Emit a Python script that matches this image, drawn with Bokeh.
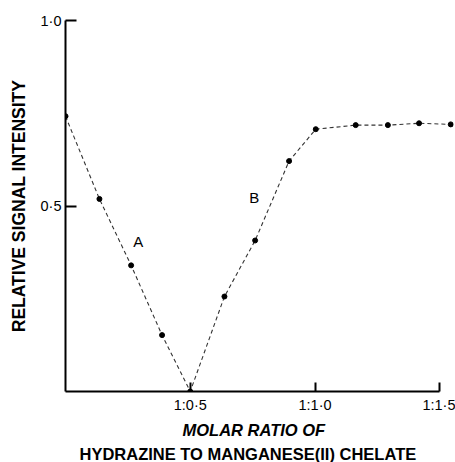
from bokeh.plotting import figure
from bokeh.models import Range1d, FixedTicker, Label, ColumnDataSource, Title
from bokeh.embed import file_html
from bokeh.resources import INLINE

# data
ratio = [0.0, 0.136, 0.263, 0.387, 0.5, 0.637, 0.76, 0.896, 1.003, 1.163, 1.292, 1.417, 1.544]
signal = [0.742, 0.519, 0.340, 0.152, 0.0, 0.256, 0.407, 0.621, 0.707, 0.718, 0.718, 0.723, 0.720]

x_ticks = [0.5, 1.0, 1.5]
x_tick_labels = ["1:0·5", "1:1·0", "1:1·5"]
y_ticks = [0.5, 1.0]
y_tick_labels = ["0·5", "1·0"]

curve_labels = ["A", "B"]
curve_label_x = [0.292, 0.756]
curve_label_y = [0.403, 0.522]

FONT = "Liberation Sans"

p = figure(width=455, height=462, x_range=Range1d(0, 1.555), y_range=Range1d(0, 1.0),
           output_backend="svg", toolbar_location=None,
           min_border_left=65, min_border_right=2, min_border_top=20, min_border_bottom=70)
p.outline_line_color = None
p.xgrid.visible = False
p.ygrid.visible = False
p.background_fill_color = "white"
p.border_fill_color = "white"

src = ColumnDataSource(dict(x=ratio, y=signal))
p.line("x", "y", source=src, line_dash="4 3", line_width=1.1, line_color="#333333")
p.scatter("x", "y", source=src, size=5, color="black")

for t, lx, ly in zip(curve_labels, curve_label_x, curve_label_y):
    p.add_layout(Label(x=lx, y=ly, text=t, text_font=FONT, text_font_size="15px",
                       text_align="center", text_baseline="middle", text_color="black"))

xa = p.xaxis[0]
xa.ticker = FixedTicker(ticks=x_ticks)
xa.major_label_overrides = {k: v for k, v in zip(x_ticks, x_tick_labels)}
xa.bounds = (0, 1.5)
xa.major_tick_in = 9
xa.major_tick_out = 0
xa.minor_tick_out = 0
xa.minor_tick_in = 0
xa.minor_tick_line_color = None
xa.axis_line_width = 2
xa.major_tick_line_width = 2
xa.axis_line_color = "black"
xa.major_tick_line_color = "black"
xa.major_label_text_font = FONT
xa.major_label_text_font_size = "14.5px"
xa.major_label_text_color = "black"
xa.major_label_standoff = 5

ya = p.yaxis[0]
ya.ticker = FixedTicker(ticks=y_ticks)
ya.major_label_overrides = {k: v for k, v in zip(y_ticks, y_tick_labels)}
ya.bounds = (0, 1.0)
ya.major_tick_in = 11
ya.major_tick_out = 0
ya.minor_tick_out = 0
ya.minor_tick_in = 0
ya.minor_tick_line_color = None
ya.axis_line_width = 2
ya.major_tick_line_width = 2
ya.axis_line_color = "black"
ya.major_tick_line_color = "black"
ya.major_label_text_font = FONT
ya.major_label_text_font_size = "14.5px"
ya.major_label_text_color = "black"
ya.major_label_standoff = 4
ya.axis_label = "RELATIVE SIGNAL INTENSITY"
ya.axis_label_text_font = FONT
ya.axis_label_text_font_size = "17.5px"
ya.axis_label_text_font_style = "bold"
ya.axis_label_text_color = "black"
ya.axis_label_standoff = 9

t1 = Title(text="MOLAR RATIO OF", text_font=FONT, text_font_size="16.5px",
           text_font_style="bold italic", text_color="black",
           align="left", offset=117, standoff=7)
t2 = Title(text="HYDRAZINE TO MANGANESE(II) CHELATE", text_font=FONT, text_font_size="16.5px",
           text_font_style="bold", text_color="black",
           align="left", offset=14, standoff=0)
p.add_layout(t1, "below")
p.add_layout(t2, "below")

open("out.html", "w").write(file_html(p, INLINE))
